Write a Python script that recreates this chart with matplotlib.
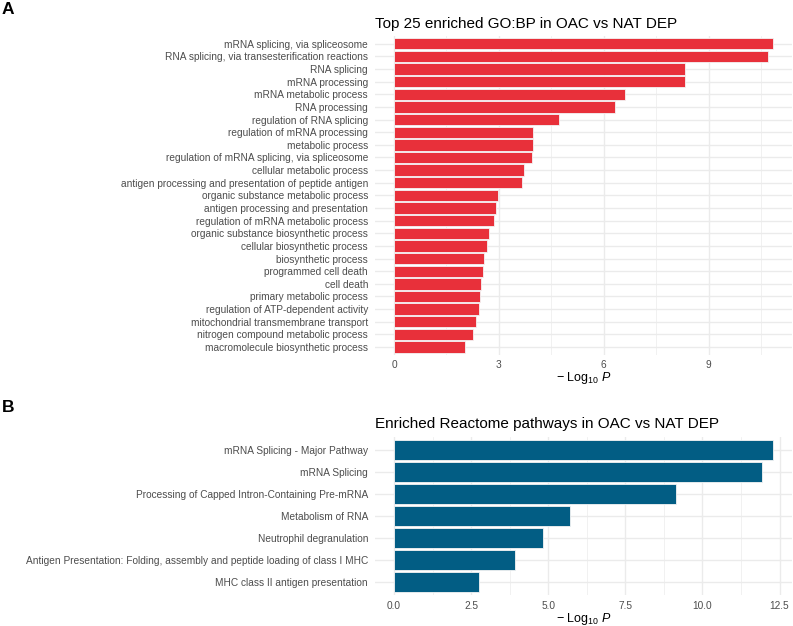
import matplotlib
matplotlib.use("Agg")
import matplotlib.pyplot as plt
import numpy as np

plt.rcParams['font.family'] = ['Liberation Sans', 'DejaVu Sans']
plt.rcParams['mathtext.fontset'] = 'custom'
plt.rcParams['mathtext.rm'] = 'Liberation Sans'
plt.rcParams['mathtext.it'] = 'Liberation Sans:italic'

go_terms = [
    "mRNA splicing, via spliceosome",
    "RNA splicing, via transesterification reactions",
    "RNA splicing",
    "mRNA processing",
    "mRNA metabolic process",
    "RNA processing",
    "regulation of RNA splicing",
    "regulation of mRNA processing",
    "metabolic process",
    "regulation of mRNA splicing, via spliceosome",
    "cellular metabolic process",
    "antigen processing and presentation of peptide antigen",
    "organic substance metabolic process",
    "antigen processing and presentation",
    "regulation of mRNA metabolic process",
    "organic substance biosynthetic process",
    "cellular biosynthetic process",
    "biosynthetic process",
    "programmed cell death",
    "cell death",
    "primary metabolic process",
    "regulation of ATP-dependent activity",
    "mitochondrial transmembrane transport",
    "nitrogen compound metabolic process",
    "macromolecule biosynthetic process",
]
go_values = [10.84, 10.69, 8.33, 8.31, 6.62, 6.33, 4.72, 3.99, 3.98, 3.96,
             3.73, 3.66, 2.98, 2.93, 2.85, 2.72, 2.67, 2.57, 2.54, 2.50,
             2.47, 2.43, 2.34, 2.26, 2.02]

re_terms = [
    "mRNA Splicing - Major Pathway",
    "mRNA Splicing",
    "Processing of Capped Intron-Containing Pre-mRNA",
    "Metabolism of RNA",
    "Neutrophil degranulation",
    "Antigen Presentation: Folding, assembly and peptide loading of class I MHC",
    "MHC class II antigen presentation",
]
re_values = [12.29, 11.94, 9.15, 5.72, 4.82, 3.94, 2.76]

go_ticks = [0, 3, 6, 9]
go_tick_labels = ["0", "3", "6", "9"]
re_ticks = [0, 2.5, 5.0, 7.5, 10.0, 12.5]
re_tick_labels = ["0.0", "2.5", "5.0", "7.5", "10.0", "12.5"]

W, H = 793, 626
fig = plt.figure(figsize=(W / 100, H / 100), dpi=100)

def px_axes(left, top, right, bottom):
    return fig.add_axes([left / W, 1 - bottom / H, (right - left) / W, (bottom - top) / H])

def draw(ax, terms, values, color, ticks, tick_labels, title):
    n = len(terms)
    y = np.arange(n)[::-1]
    vmax = max(values)
    ax.set_xlim(-0.05 * vmax, vmax * 1.05)
    ax.set_ylim(-0.6, n - 1 + 0.6)
    minor = [(ticks[i] + ticks[i + 1]) / 2 for i in range(len(ticks) - 1)]
    minor.append(ticks[-1] + (ticks[1] - ticks[0]) / 2)
    for m in minor:
        ax.axvline(m, color='#EBEBEB', lw=0.5, zorder=0)
    for t in ticks:
        ax.axvline(t, color='#EBEBEB', lw=1.0, zorder=0)
    for yy in y:
        ax.axhline(yy, color='#EBEBEB', lw=1.0, zorder=0)
    ax.barh(y, values, height=0.9, color=color, edgecolor='#F4F4F4', linewidth=0.6, zorder=2)
    ax.set_yticks(y)
    ax.set_yticklabels(terms, fontsize=7.3, color='#4D4D4D')
    ax.set_xticks(ticks)
    ax.set_xticklabels(tick_labels, fontsize=7.3, color='#4D4D4D')
    ax.tick_params(length=0, pad=4)
    ax.tick_params(axis='y', pad=5)
    for s in ax.spines.values():
        s.set_visible(False)
    ax.set_xlabel(r'$-\ \mathrm{Log}_{10}\ \mathit{P}$', fontsize=9, color='black', labelpad=0)
    ax.set_title(title, loc='left', fontsize=11, color='black', pad=6)

axA = px_axes(375, 36.2, 792, 354.6)
draw(axA, go_terms, go_values, '#E8303A', go_ticks, go_tick_labels,
     "Top 25 enriched GO:BP in OAC vs NAT DEP")

axB = px_axes(375, 436.5, 792, 595.2)
draw(axB, re_terms, re_values, '#025D84', re_ticks, re_tick_labels,
     "Enriched Reactome pathways in OAC vs NAT DEP")

fig.text(2 / W, 1 - 9 / H, "A", fontsize=12.5, fontweight='bold', va='center', ha='left')
fig.text(2 / W, 1 - 408 / H, "B", fontsize=12.5, fontweight='bold', va='center', ha='left')

fig.savefig("out.png", dpi=100, facecolor='white')
